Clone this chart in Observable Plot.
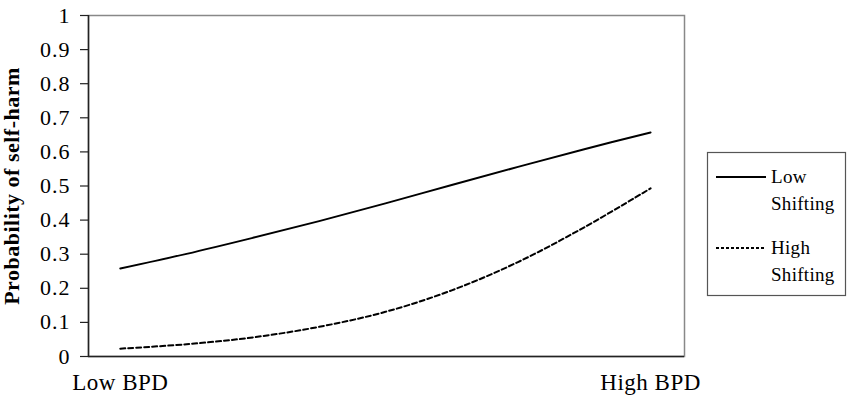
<!DOCTYPE html>
<html>
<head>
<meta charset="utf-8">
<script src="https://cdn.jsdelivr.net/npm/d3@7"></script>
<script src="https://cdn.jsdelivr.net/npm/@observablehq/plot@0.6"></script>
<style>
  html, body { margin: 0; padding: 0; background: #fff; }
  #chart { width: 850px; height: 400px; }
</style>
</head>
<body>
<div id="chart"></div>
<script>
const xLabels = ["Low BPD", "High BPD"];
const xPos = [0, 0.125, 0.25, 0.375, 0.5, 0.625, 0.75, 0.875, 1];
const lowShifting = [0.258, 0.301, 0.348, 0.397, 0.449, 0.503, 0.556, 0.608, 0.657];
const highShifting = [0.023, 0.036, 0.056, 0.087, 0.131, 0.194, 0.277, 0.379, 0.493];
const yTicks = [0, 0.1, 0.2, 0.3, 0.4, 0.5, 0.6, 0.7, 0.8, 0.9, 1];
const yTitle = "Probability of self-harm";
const seriesNames = ["Low\nShifting", "High\nShifting"];

const lowData = xPos.map((x, i) => ({x, y: lowShifting[i]}));
const highData = xPos.map((x, i) => ({x, y: highShifting[i]}));

const FONT = "'Liberation Serif', 'Times New Roman', serif";

const svg = Plot.plot({
  width: 850,
  height: 400,
  marginLeft: 88,
  marginRight: 166,
  marginTop: 15,
  marginBottom: 44,
  style: {fontFamily: FONT, fontSize: "22px", color: "#000", background: "#fff"},
  x: {domain: [-0.06, 1.064]},
  y: {domain: [0, 1]},
  marks: [
    Plot.frame({stroke: "#888", strokeWidth: 1.5}),
    Plot.ruleX([-0.06], {stroke: "#222", strokeWidth: 1.5}),
    Plot.ruleY([0], {stroke: "#222", strokeWidth: 1.5}),
    Plot.axisY({
      ticks: yTicks,
      tickFormat: d => String(+d.toFixed(1)),
      tickSize: 8,
      tickPadding: 10,
      fontSize: 22,
      label: null,
      stroke: "#222",
      strokeWidth: 1.2
    }),
    Plot.axisX({
      ticks: [0, 1],
      tickFormat: i => xLabels[i],
      tickSize: 0,
      tickPadding: 17,
      fontSize: 23,
      label: null
    }),
    Plot.text([yTitle], {
      frameAnchor: "left",
      rotate: -90,
      dx: -77,
      textAnchor: "middle",
      lineAnchor: "middle",
      fontWeight: "bold",
      fontSize: 22
    }),
    Plot.line(lowData, {x: "x", y: "y", curve: "catmull-rom", stroke: "#000", strokeWidth: 2}),
    Plot.line(highData, {x: "x", y: "y", curve: "catmull-rom", stroke: "#000", strokeWidth: 2, strokeDasharray: "5,3"})
  ]
});

// slight horizontal widening of text, as in the reference
d3.select(svg).selectAll("g[aria-label='x-axis tick label'] text").attr("letter-spacing", "0.5px");
d3.select(svg).selectAll("g[aria-label='y-axis tick label'] text").attr("letter-spacing", "1px");
d3.select(svg).selectAll("g[aria-label='text'] text").attr("letter-spacing", "0.5px");

// Legend drawn inside the same SVG, to the right of the plot
const lg = d3.select(svg).append("g")
  .attr("font-family", FONT).attr("font-size", 19).attr("text-anchor", "start").attr("letter-spacing", "0.3px");
lg.append("rect").attr("x", 707.5).attr("y", 152.5).attr("width", 138).attr("height", 143)
  .attr("fill", "#fff").attr("stroke", "#555").attr("stroke-width", 1.2);
const entries = [
  {name: seriesNames[0], dash: null, ly: 177, ty: 183},
  {name: seriesNames[1], dash: "3,2", ly: 248, ty: 254}
];
entries.forEach(e => {
  const ln = lg.append("line").attr("x1", 716).attr("x2", 766).attr("y1", e.ly).attr("y2", e.ly)
    .attr("stroke", "#000").attr("stroke-width", 1.8);
  if (e.dash) ln.attr("stroke-dasharray", e.dash);
  const t = lg.append("text").attr("x", 771).attr("y", e.ty).attr("fill", "#000");
  e.name.split("\n").forEach((s, k) => {
    t.append("tspan").attr("x", 771).attr("dy", k === 0 ? 0 : 27).text(s);
  });
});

document.getElementById("chart").appendChild(svg);
</script>
</body>
</html>
